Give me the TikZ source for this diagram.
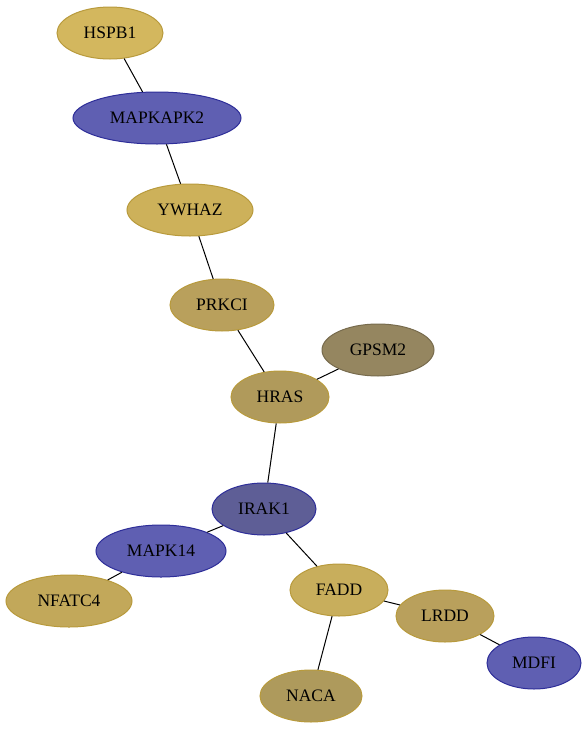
\documentclass[tikz,border=0pt]{standalone}
\usepackage{fontspec}
\setmainfont{Liberation Serif}
\usetikzlibrary{shapes.geometric}

\definecolor{goldA}{HTML}{D3B75E}
\definecolor{goldB}{HTML}{CDB15A}
\definecolor{goldC}{HTML}{B9A05C}
\definecolor{goldD}{HTML}{B09A5B}
\definecolor{goldE}{HTML}{C2A85A}
\definecolor{goldF}{HTML}{C8AE5C}
\definecolor{goldG}{HTML}{AE9A5C}
\definecolor{olive}{HTML}{958660}
\definecolor{blueA}{HTML}{5F5FB2}
\definecolor{blueB}{HTML}{5E5E96}
\definecolor{goldline}{HTML}{B89A3C}
\definecolor{blueline}{HTML}{2E2E99}

\begin{document}
\begin{tikzpicture}[
		x=1pt,y=-1pt,
		line width=1pt,
		every node/.style={
			ellipse,
			draw,
			inner sep=0pt,
			minimum height=52pt,
			font=\fontsize{17.5}{20}\selectfont
		},
		gene/.style={fill=#1,draw=goldline},
		prot/.style={fill=#1,draw=blueline}
		]
		
		\useasboundingbox (0,0) rectangle (588,731);
		
		%--------------------------------------------------
		% Nodes
		%--------------------------------------------------
		
		\node (hspb1) [gene=goldA,minimum width=106pt] at (110,33) {HSPB1};
		\node (mapkapk2) [prot=blueA,minimum width=168pt] at (157,118) {MAPKAPK2};
		\node (ywhaz) [gene=goldB,minimum width=126pt] at (190,210) {YWHAZ};
		\node (prkci) [gene=goldC,minimum width=104pt] at (222,305) {PRKCI};
		\node (gpsm2) [gene=olive,draw=olive!80!black,minimum width=112pt] at (378,350) {GPSM2};
		\node (hras) [gene=goldD,minimum width=98pt] at (280,397) {HRAS};
		\node (irak1) [prot=blueB,minimum width=104pt] at (264,509) {IRAK1};
		\node (mapk14) [prot=blueA,minimum width=130pt] at (161,551) {MAPK14};
		\node (nfatc4) [gene=goldE,minimum width=126pt] at (69,601) {NFATC4};
		\node (fadd) [gene=goldF,minimum width=98pt] at (339,590) {FADD};
		\node (lrdd) [gene=goldC,minimum width=98pt] at (445,616) {LRDD};
		\node (mdfi) [prot=blueA,minimum width=94pt] at (534,663) {MDFI};
		\node (naca) [gene=goldG,minimum width=102pt] at (311,696) {NACA};
		
		%--------------------------------------------------
		% Edges
		%--------------------------------------------------
		
		\draw (hspb1) -- (mapkapk2);
		\draw (mapkapk2) -- (ywhaz);
		\draw (ywhaz) -- (prkci);
		\draw (prkci) -- (hras);
		\draw (hras) -- (gpsm2);
		\draw (hras) -- (irak1);
		\draw (irak1) -- (mapk14);
		\draw (mapk14) -- (nfatc4);
		\draw (irak1) -- (fadd);
		\draw (fadd) -- (lrdd);
		\draw (lrdd) -- (mdfi);
		\draw (fadd) -- (naca);
		
	\end{tikzpicture}
\end{document}
